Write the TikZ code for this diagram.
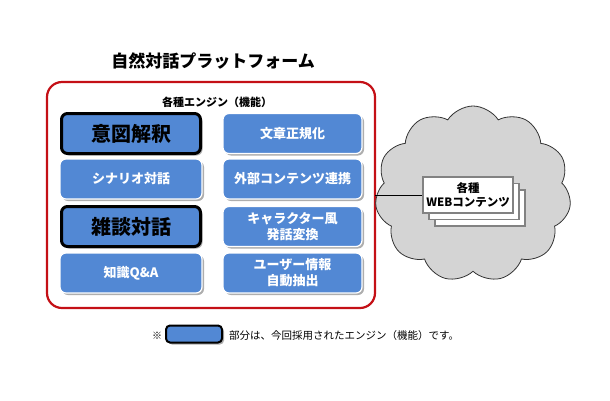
\documentclass[tikz,border=0pt]{standalone}
\usepackage{fontspec}
\setmainfont{Noto Sans CJK JP}
\usetikzlibrary{shapes.symbols,shadows}
\definecolor{boxblue}{RGB}{82,136,212}
\definecolor{framered}{RGB}{196,16,22}
\definecolor{cloudgray}{RGB}{212,212,212}
\definecolor{docgray}{RGB}{130,130,130}
\tikzset{
  engine/.style={rounded corners=6pt, fill=boxblue, draw=white, line width=1.2pt,
    drop shadow={shadow xshift=2pt, shadow yshift=-2pt, fill=black!45, opacity=0.7},
    text=white, font=\bfseries\fontsize{13}{15}\selectfont, align=center,
    minimum height=40pt, inner sep=0pt},
  leftcol/.style={minimum width=142pt},
  rightcol/.style={minimum width=139pt},
  adopted/.style={engine, draw=black, line width=3pt, text=black,
    font=\bfseries\fontsize{20}{22}\selectfont, minimum height=40pt, minimum width=139pt},
  docbox/.style={draw=docgray, line width=1.3pt, fill=white, minimum width=90pt,
    minimum height=36pt, inner sep=0pt, align=center, font=\bfseries\fontsize{11.5}{14}\selectfont}
}
\begin{document}
\begin{tikzpicture}[x=1pt,y=-1pt]
\useasboundingbox (0,0) rectangle (610,400);
% title
\node[font=\bfseries\fontsize{17}{19}\selectfont] (title) at (213,61) {自然対話プラットフォーム};
% frame
\draw[framered, line width=2.2pt, rounded corners=15pt] (47,82) rectangle (375,308);
\coordinate (frameE) at (375,195);
\node[font=\bfseries\fontsize{11}{13}\selectfont] (enginelbl) at (217,102) {各種エンジン（機能）};
% left column
\node[adopted] (ito) at (131,133.5) {意図解釈};
\node[engine,leftcol] (scen) at (131,179) {シナリオ対話};
\node[adopted] (zatsu) at (131,226.5) {雑談対話};
\node[engine,leftcol] (chishiki) at (131,273) {知識Q\&A};
% right column
\node[engine,rightcol] (bunsho) at (292.5,133.5) {文章正規化};
\node[engine,rightcol] (gaibu) at (292.5,179) {外部コンテンツ連携};
\node[engine,rightcol, font=\bfseries\fontsize{13}{16}\selectfont] (chara) at (292.5,226.5) {キャラクター風\\発話変換};
\node[engine,rightcol, font=\bfseries\fontsize{13}{16}\selectfont] (user) at (292.5,273) {ユーザー情報\\自動抽出};
% cloud
\node[cloud, cloud puffs=11, cloud puff arc=115, aspect=1.15, draw=black!80, line width=0.8pt,
  fill=cloudgray, minimum width=196pt, minimum height=176pt, inner sep=0pt] (cloud) at (473,194) {};
% documents
\node[docbox] (doc3) at (480,208) {};
\node[docbox] (doc2) at (474,201.5) {};
\node[docbox] (doc1) at (468,195) {各種\\WEBコンテンツ};
\draw[black, line width=0.8pt] (frameE) -- (doc1.west);
% legend
\node[font=\fontsize{10}{12}\selectfont] (kome) at (157,336) {※};
\node[rounded corners=4pt, fill=boxblue, draw=black, line width=2pt, minimum width=56pt, minimum height=17pt,
  drop shadow={shadow xshift=2pt, shadow yshift=-2pt, fill=black!45, opacity=0.7}] (legbox) at (194,334) {};
\node[anchor=west, font=\fontsize{10.5}{12}\selectfont, inner sep=0pt] (legtxt) at (229,336) {部分は、今回採用されたエンジン（機能）です。};
\end{tikzpicture}
\end{document}
